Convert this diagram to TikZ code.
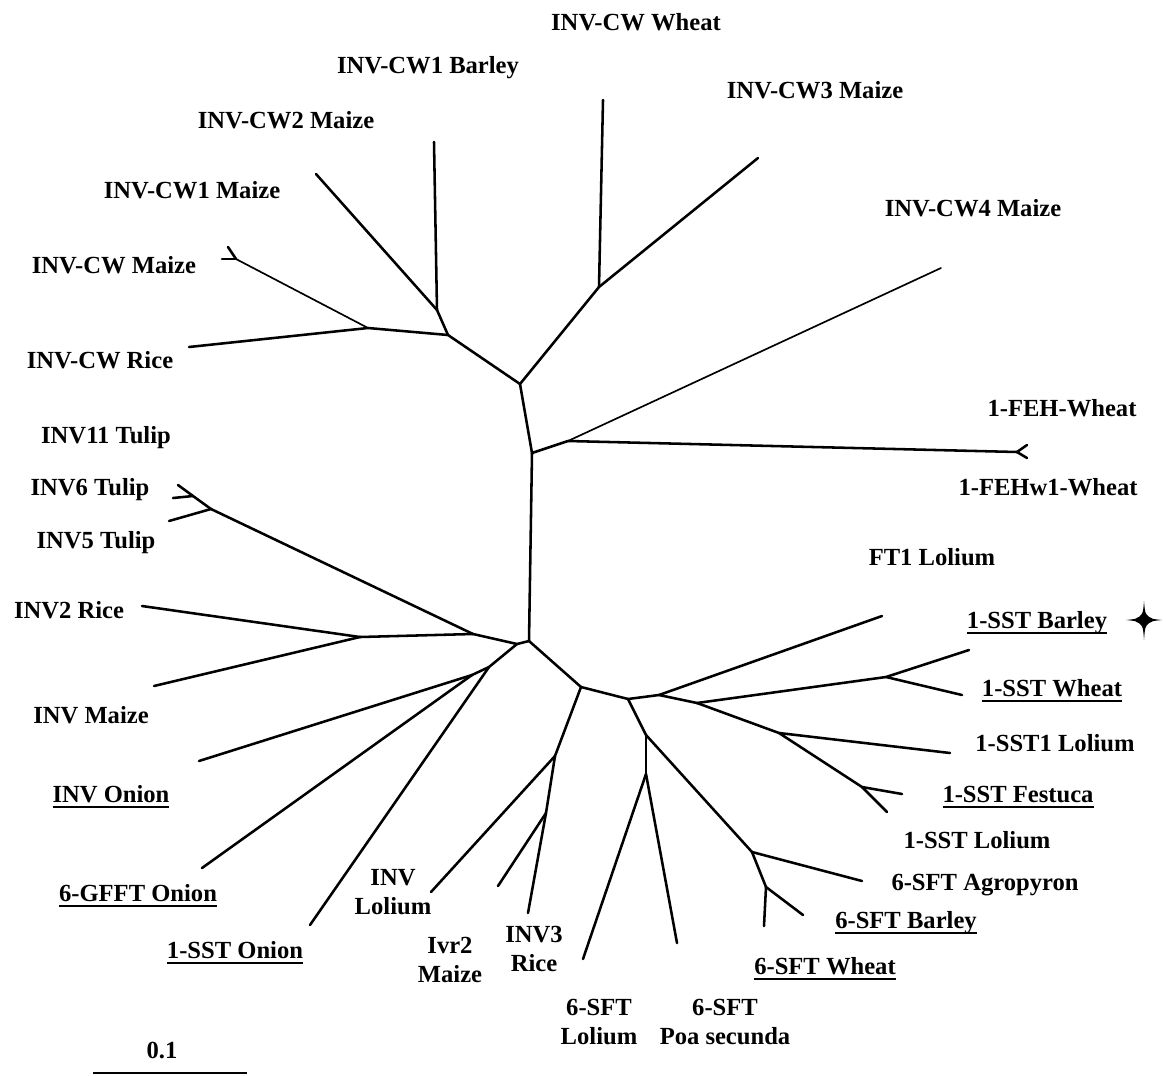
\documentclass[tikz,border=0pt]{standalone}
\usepackage{fontspec}
\setmainfont{Liberation Serif}
\newcommand\undl[1]{\setbox0\hbox{#1}\rlap{\rule[-3.2pt]{\wd0}{1.1pt}}\box0}
\begin{document}
\begin{tikzpicture}[x=0.02cm,y=-0.02cm,
  br/.style={line width=1.45pt,line cap=round,line join=round},
  thinbr/.style={line width=0.95pt,line cap=round},
  lbl/.style={font=\fontsize{14}{16.8}\selectfont\bfseries,inner sep=0pt,anchor=base},
  lbltwo/.style={font=\fontsize{14}{16.8}\selectfont\bfseries,inner sep=0pt,align=center,anchor=center}]
\useasboundingbox (0,0) rectangle (1166,1075);
% internal nodes
\coordinate (A) at (448,335);
\coordinate (B) at (437,310);
\coordinate (C) at (368,328);
\coordinate (D) at (520,384);
\coordinate (E) at (599,287);
\coordinate (G) at (532,453);
\coordinate (F) at (568,441);
\coordinate (Fe) at (1017,452);
\coordinate (H) at (529,641);
\coordinate (K) at (517,644);
\coordinate (I) at (473,634);
\coordinate (J) at (360,637);
\coordinate (T1) at (211,509);
\coordinate (T2) at (193,496);
\coordinate (L) at (489,667);
\coordinate (N) at (472,675);
\coordinate (M) at (581,687);
\coordinate (O) at (555,756);
\coordinate (P) at (546,813);
\coordinate (Q) at (628,699);
\coordinate (R) at (659,695);
\coordinate (U) at (697,703);
\coordinate (V) at (886,677);
\coordinate (W) at (779,733);
\coordinate (X) at (862,787);
\coordinate (S) at (646,735);
\coordinate (Y) at (646,774);
\coordinate (Z) at (752,852);
\coordinate (AA) at (766,887);
\coordinate (CWM) at (236,259);
% tips
\coordinate (tcwbarley) at (434,142);
\coordinate (tcwtwomaize) at (316,174);
\coordinate (tcwmaizeA) at (228,247);
\coordinate (tcwmaizeB) at (222,259);
\coordinate (tcwrice) at (189,347);
\coordinate (tcwwheat) at (603,100);
\coordinate (tcwthree) at (758,158);
\coordinate (tcwfour) at (941,268);
\coordinate (tfeh) at (1027,445);
\coordinate (tfehw) at (1027,458);
\coordinate (tinveleven) at (178,485);
\coordinate (tinvsix) at (173,498);
\coordinate (tinvfive) at (169,521);
\coordinate (tinvtworice) at (142,606);
\coordinate (tinvmaize) at (154,686);
\coordinate (tinvonion) at (199,761);
\coordinate (tgfft) at (202,868);
\coordinate (tsstonion) at (310,925);
\coordinate (tinvlolium) at (431,892);
\coordinate (tivr) at (498,886);
\coordinate (tinvthree) at (528,913);
\coordinate (tsftlolium) at (583,959);
\coordinate (tpoa) at (677,943);
\coordinate (tagro) at (862,881);
\coordinate (tsftwheat) at (764,926);
\coordinate (tsftbarley) at (803,915);
\coordinate (tfestuca) at (902,794);
\coordinate (tsstlolium) at (887,812);
\coordinate (tsstonelolium) at (950,753);
\coordinate (tsstwheat) at (962,695);
\coordinate (tsstbarley) at (969,650);
\coordinate (tft) at (882,616);
% branches
\draw[br] (A) -- (B);
\draw[br] (B) -- (tcwbarley);
\draw[br] (B) -- (tcwtwomaize);
\draw[br] (A) -- (C);
\draw[thinbr] (C) -- (CWM);
\draw[br] (CWM) -- (tcwmaizeA);
\draw[br] (CWM) -- (tcwmaizeB);
\draw[br] (C) -- (tcwrice);
\draw[br] (A) -- (D);
\draw[br] (D) -- (E);
\draw[br] (E) -- (tcwwheat);
\draw[br] (E) -- (tcwthree);
\draw[br] (D) -- (G);
\draw[br] (G) -- (F);
\draw[thinbr] (F) -- (tcwfour);
\draw[br] (F) -- (Fe);
\draw[br] (Fe) -- (tfeh);
\draw[br] (Fe) -- (tfehw);
\draw[br] (G) -- (H);
\draw[br] (H) -- (K);
\draw[br] (K) -- (I);
\draw[br] (I) -- (T1);
\draw[br] (T1) -- (T2);
\draw[br] (T2) -- (tinveleven);
\draw[br] (T2) -- (tinvsix);
\draw[br] (T1) -- (tinvfive);
\draw[br] (I) -- (J);
\draw[br] (J) -- (tinvtworice);
\draw[br] (J) -- (tinvmaize);
\draw[br] (K) -- (L);
\draw[br] (L) -- (N);
\draw[br] (N) -- (tinvonion);
\draw[br] (N) -- (tgfft);
\draw[br] (L) -- (tsstonion);
\draw[br] (H) -- (M);
\draw[br] (M) -- (O);
\draw[br] (O) -- (tinvlolium);
\draw[br] (O) -- (P);
\draw[br] (P) -- (tivr);
\draw[br] (P) -- (tinvthree);
\draw[br] (M) -- (Q);
\draw[br] (Q) -- (R);
\draw[br] (R) -- (tft);
\draw[br] (R) -- (U);
\draw[br] (U) -- (V);
\draw[br] (V) -- (tsstbarley);
\draw[br] (V) -- (tsstwheat);
\draw[br] (U) -- (W);
\draw[br] (W) -- (tsstonelolium);
\draw[br] (W) -- (X);
\draw[br] (X) -- (tfestuca);
\draw[br] (X) -- (tsstlolium);
\draw[br] (Q) -- (S);
\draw[br] (S) -- (Y);
\draw[br] (Y) -- (tsftlolium);
\draw[br] (Y) -- (tpoa);
\draw[br] (S) -- (Z);
\draw[br] (Z) -- (tagro);
\draw[br] (Z) -- (AA);
\draw[br] (AA) -- (tsftwheat);
\draw[br] (AA) -- (tsftbarley);
% labels
\node[lbl] (lcwwheat) at (636,31) {INV-CW Wheat};
\node[lbl] (lcwbarley) at (428,73) {INV-CW1 Barley};
\node[lbl] (lcwthree) at (815,98) {INV-CW3 Maize};
\node[lbl] (lcwtwo) at (286,128) {INV-CW2 Maize};
\node[lbl] (lcwone) at (192,198) {INV-CW1 Maize};
\node[lbl] (lcwfour) at (973,216) {INV-CW4 Maize};
\node[lbl] (lcwmaize) at (114,273) {INV-CW Maize};
\node[lbl] (lcwrice) at (100,368) {INV-CW Rice};
\node[lbl] (lfeh) at (1062,416) {1-FEH-Wheat};
\node[lbl] (linveleven) at (106,443) {INV11 Tulip};
\node[lbl] (linvsix) at (90,495) {INV6 Tulip};
\node[lbl] (lfehw) at (1048,495) {1-FEHw1-Wheat};
\node[lbl] (linvfive) at (96,548) {INV5 Tulip};
\node[lbl] (lft) at (932,565) {FT1 Lolium};
\node[lbl] (linvtworice) at (69,618) {INV2 Rice};
\node[lbl] (lsstbarley) at (1037,628) {\undl{1-SST Barley}};
\node[lbl] (lsstwheat) at (1052,696) {\undl{1-SST Wheat}};
\node[lbl] (linvmaize) at (91,723) {INV Maize};
\node[lbl] (lsstonelolium) at (1055,751) {1-SST1 Lolium};
\node[lbl] (linvonion) at (111,802) {\undl{INV Onion}};
\node[lbl] (lfestuca) at (1018,802) {\undl{1-SST Festuca}};
\node[lbl] (lsstlolium) at (977,848) {1-SST Lolium};
\node[lbl] (lagro) at (985,890) {6-SFT Agropyron};
\node[lbl] (lgfft) at (138,901) {\undl{6-GFFT Onion}};
\node[lbl] (lsftbarley) at (906,928) {\undl{6-SFT Barley}};
\node[lbl] (lsstonion) at (235,958) {\undl{1-SST Onion}};
\node[lbl] (lsftwheat) at (825,974) {\undl{6-SFT Wheat}};
\node[lbltwo] (linvlolium) at (393,892) {INV\\Lolium};
\node[lbltwo] (livr) at (450,960) {Ivr2\\Maize};
\node[lbltwo] (linvthree) at (534,949) {INV3\\Rice};
\node[lbltwo] (lsftlolium) at (599,1022) {6-SFT\\Lolium};
\node[lbltwo] (lpoa) at (725,1022) {6-SFT\\Poa secunda};
% star
\fill (1144,601) .. controls (1145,613) .. (1148.5,616.5) .. controls (1152,619) .. (1162,620)
  .. controls (1152,621) .. (1148.5,623.5) .. controls (1145,627) .. (1144,640)
  .. controls (1143,627) .. (1139.5,623.5) .. controls (1136,621) .. (1126,620)
  .. controls (1136,619) .. (1139.5,616.5) .. controls (1143,613) .. (1144,601) -- cycle;
\fill (1144,620) circle (5);
% scale bar
\coordinate (sbA) at (93,1073);
\coordinate (sbB) at (247,1073);
\draw[line width=1.1pt] (sbA) -- (sbB);
\node[lbl] (lscale) at (162,1058) {0.1};
\end{tikzpicture}
\end{document}
